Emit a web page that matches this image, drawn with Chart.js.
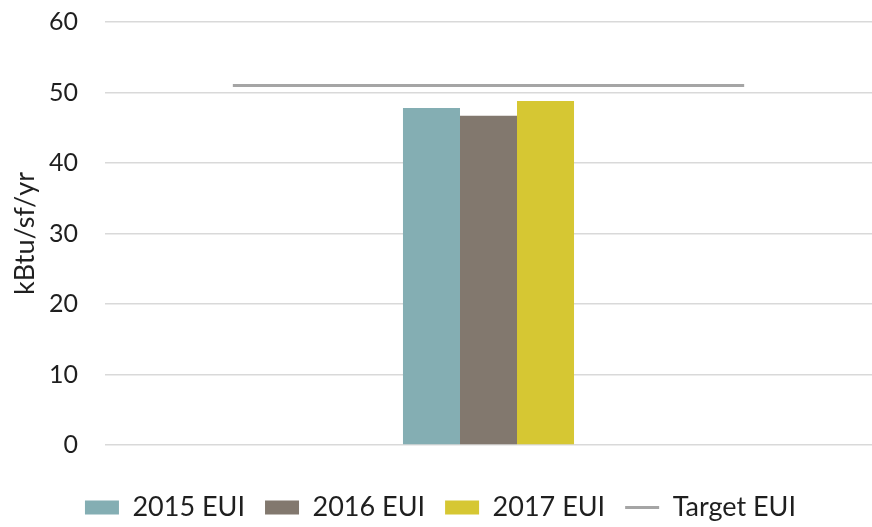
<!DOCTYPE html>
<html>
<head>
<meta charset="utf-8">
<script src="https://cdn.jsdelivr.net/npm/chart.js@4.4.1/dist/chart.umd.min.js"></script>
<style>
  html, body { margin: 0; padding: 0; background: #fff; }
  #wrap { width: 872px; height: 527px; }
</style>
</head>
<body>
<div id="wrap"><canvas id="euiChart"></canvas></div>
<script>
// three slots: the bars sit in the middle one, the target line spans all three
const categories = ["", "", ""];
const eui2015 = [null, 47.8, null];
const eui2016 = [null, 46.7, null];
const eui2017 = [null, 48.8, null];
const targetEUI = [51, 51, 51];
const yTicks = [0, 10, 20, 30, 40, 50, 60];

const fontFamily = "Lato, 'Noto Sans', sans-serif";
const textColor = "#1f1f1f";

const chart = new Chart(document.getElementById("euiChart"), {
    type: "bar",
    data: {
        labels: categories,
        datasets: [
            {
                label: "2015 EUI",
                data: eui2015,
                backgroundColor: "#84aeb3",
                borderWidth: 0,
                pointStyle: "rect",
                order: 2,
            },
            {
                label: "2016 EUI",
                data: eui2016,
                backgroundColor: "#82786e",
                borderWidth: 0,
                pointStyle: "rect",
                order: 2,
            },
            {
                label: "2017 EUI",
                data: eui2017,
                backgroundColor: "#d6c733",
                borderWidth: 0,
                pointStyle: "rect",
                order: 2,
            },
            {
                type: "line",
                label: "Target EUI",
                data: targetEUI,
                borderColor: "#a5a5a5",
                backgroundColor: "#a5a5a5",
                borderWidth: 3,
                pointRadius: 0,
                pointStyle: "line",
                order: 1,
            },
        ],
    },
    options: {
        responsive: true,
        maintainAspectRatio: false,
        animation: false,
        layout: {
            autoPadding: false,
            padding: { left: 9, right: 0, top: 22, bottom: -4 },
        },
        datasets: {
            bar: {
                barPercentage: 1,
                categoryPercentage: 0.669,
            },
        },
        plugins: {
            legend: {
                position: "bottom",
                labels: {
                    usePointStyle: true,
                    pointStyleWidth: 34,
                    boxHeight: 14,
                    padding: 20,
                    color: textColor,
                    font: { family: fontFamily, size: 27 },
                    sort: (a, b) => a.datasetIndex - b.datasetIndex,
                },
            },
            tooltip: { enabled: false },
        },
        scales: {
            x: {
                type: "category",
                offset: true,
                grid: { display: false },
                border: { display: false },
                ticks: { display: false },
                afterFit: (axis) => {
                    axis.height = 29;
                },
            },
            y: {
                min: 0,
                max: 60,
                afterBuildTicks: (axis) => {
                    axis.ticks = yTicks.map((v) => ({ value: v }));
                },
                afterFit: (axis) => {
                    axis.width = 96;
                    axis.paddingTop = 0;
                    axis.paddingBottom = 0;
                },
                grid: {
                    color: "#d9d9d9",
                    lineWidth: 1.5,
                    drawTicks: false,
                },
                border: { display: false },
                ticks: {
                    padding: 27,
                    color: textColor,
                    font: { family: fontFamily, size: 25 },
                },
                title: {
                    display: true,
                    text: "kBtu/sf/yr",
                    color: textColor,
                    font: { family: fontFamily, size: 27 },
                    padding: { top: 0, bottom: 6 },
                },
            },
        },
    },
});
</script>
</body>
</html>
